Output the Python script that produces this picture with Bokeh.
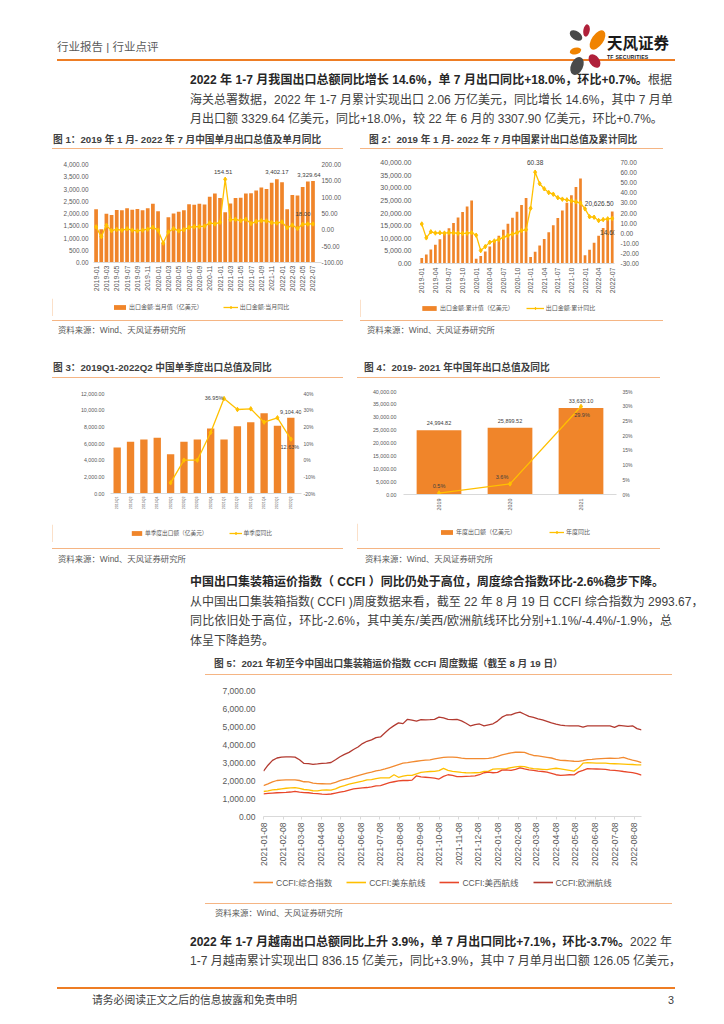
import math
import pandas as pd
from bokeh.plotting import figure
from bokeh.models import (Range1d, LinearAxis, FixedTicker, NumeralTickFormatter,
                          PrintfTickFormatter, DatetimeTickFormatter, Legend, LegendItem,
                          Label, Div, Spacer)
from bokeh.layouts import column, row
from bokeh.embed import file_html
from bokeh.resources import INLINE

# ---------------- data ----------------
months1 = [f"{y}-{m:02d}" for y in (2019, 2020, 2021, 2022) for m in range(1, 13)][:43]
exp_month = [2175.7, 1353.0, 1986.2, 1934.9, 2138.6, 2128.3, 2215.1, 2148.1, 2181.2, 2129.3, 2217.4, 2395.4,
             2089.0, 810.0, 1851.0, 2002.0, 2067.0, 2135.0, 2373.0, 2353.0, 2393.0, 2372.0, 2680.0, 2818.0,
             2637.0, 2049.0, 2413.0, 2637.0, 2639.0, 2814.0, 2826.0, 2943.0, 3057.0, 3001.0, 3255.0, 3402.17,
             3274.0, 2174.0, 2760.0, 2736.0, 3085.0, 3307.90, 3329.64]
yoy_month = [9.1, -20.8, 13.8, -2.7, 1.1, -1.3, 3.3, -1.0, -3.2, -0.9, 1.9, 7.6,
             -1.0, -40.6, -6.6, 3.5, -3.3, 0.5, 7.2, 9.5, 9.9, 11.4, 21.1, 18.1,
             23.0, 154.51, 30.6, 32.3, 27.9, 32.2, 19.3, 25.6, 28.1, 27.1, 22.0, 20.9,
             24.1, 6.2, 14.7, 3.9, 16.9, 17.9, 18.0]

exp_cum = [2175.7, 3528.7, 5514.9, 7449.8, 9588.4, 11716.7, 13931.8, 16079.9, 18261.1, 20390.4, 22607.8, 24994.8,
           1900.0, 2924.0, 4775.0, 6777.0, 8844.0, 10979.0, 13352.0, 15705.0, 18098.0, 20470.0, 23150.0, 25899.5,
           2600.0, 4686.0, 7099.0, 9736.0, 12375.0, 15189.0, 18015.0, 20958.0, 24015.0, 27016.0, 30271.0, 33640.0,
           3274.0, 5448.0, 8208.0, 10944.0, 14029.0, 17337.0, 20626.5]
yoy_cum = [9.1, -4.6, 1.4, 0.2, 0.4, 0.1, 0.6, 0.4, -0.1, -0.2, 0.0, 0.5,
           -2.0, -17.2, -13.3, -9.0, -7.7, -6.2, -4.1, -2.3, -0.8, 0.5, 2.5, 3.6,
           24.7, 60.38, 49.0, 44.0, 40.2, 38.6, 35.2, 33.7, 33.0, 32.0, 31.1, 29.9,
           24.1, 16.3, 15.8, 12.5, 13.5, 14.2, 14.6]

quarters = ["2019Q1", "2019Q2", "2019Q3", "2019Q4", "2020Q1", "2020Q2", "2020Q3", "2020Q4",
            "2021Q1", "2021Q2", "2021Q3", "2021Q4", "2022Q1", "2022Q2"]
exp_q = [5514.9, 6201.8, 6480.0, 6680.0, 4720.0, 6204.0, 6480.0, 7800.0,
         6480.0, 8080.0, 8560.0, 9640.0, 8120.0, 9104.40]
yoy_q_quarters = quarters[4:]
yoy_q = [-13.6, 0.0, 0.0, 16.6, 36.95, 30.4, 30.8, 22.8, 25.4, 12.63]

years = ["2019", "2020", "2021"]
exp_y = [24994.82, 25899.52, 33630.10]
yoy_y = [0.5, 3.6, 29.9]

ccfi_ticks = ["2021-01-08", "2021-02-08", "2021-03-08", "2021-04-08", "2021-05-08", "2021-06-08",
              "2021-07-08", "2021-08-08", "2021-09-08", "2021-10-08", "2021-11-08", "2021-12-08",
              "2022-01-08", "2022-02-08", "2022-03-08", "2022-04-08", "2022-05-08", "2022-06-08",
              "2022-07-08", "2022-08-08"]
ccfi_comp = [1720, 1810, 1920, 2000, 2020, 2030, 2040, 2040, 2000, 1930,
             1920, 1850, 1830, 1820, 1810, 1820, 1900, 1990, 2060, 2120,
             2200, 2270, 2340, 2410, 2470, 2540, 2580, 2640, 2720, 2800,
             2880, 2960, 2990, 3040, 3070, 3100, 3130, 3150, 3200, 3240,
             3280, 3300, 3300, 3280, 3240, 3220, 3210, 3210, 3220, 3220,
             3230, 3270, 3340, 3420, 3480, 3540, 3570, 3570, 3560, 3460,
             3390, 3370, 3330, 3290, 3250, 3180, 3120, 3110, 3090, 3070,
             3060, 3100, 3160, 3170, 3200, 3220, 3230, 3240, 3230, 3240,
             3280, 3200, 3130, 3070, 2993.67]
ccfi_east = [1390, 1420, 1480, 1500, 1540, 1570, 1590, 1600, 1560, 1500,
             1480, 1430, 1420, 1460, 1480, 1470, 1530, 1650, 1720, 1800,
             1860, 1910, 1960, 2030, 2050, 2100, 2150, 2150, 2150, 2320,
             2180, 2240, 2290, 2280, 2370, 2450, 2480, 2500, 2510, 2550,
             2670, 2560, 2510, 2480, 2450, 2430, 2420, 2430, 2440, 2500,
             2520, 2630, 2650, 2650, 2660, 2720, 2760, 2790, 2770, 2700,
             2660, 2640, 2620, 2600, 2650, 2680, 2640, 2600, 2560, 2520,
             2690, 2960, 2990, 2980, 2970, 2970, 2960, 2940, 2930, 2920,
             2910, 2900, 2890, 2870, 2870]
ccfi_west = [1260, 1280, 1300, 1320, 1330, 1340, 1360, 1400, 1350, 1330,
             1320, 1290, 1270, 1240, 1230, 1250, 1300, 1350, 1400, 1470,
             1530, 1560, 1590, 1610, 1650, 1700, 1720, 1800, 1880, 1930,
             1980, 2000, 2000, 2020, 2260, 2200, 2180, 2160, 2130, 2080,
             2230, 2320, 2280, 2210, 2220, 2230, 2240, 2260, 2320, 2430,
             2460, 2430, 2450, 2580, 2590, 2560, 2620, 2700, 2640, 2590,
             2560, 2520, 2500, 2460, 2400, 2320, 2280, 2300, 2320, 2310,
             2480, 2560, 2660, 2650, 2640, 2630, 2620, 2580, 2560, 2540,
             2500, 2470, 2440, 2380, 2300]
ccfi_europe = [2520, 2850, 3120, 3250, 3300, 3310, 3310, 3300, 3150, 2950,
               2940, 2900, 2920, 2950, 2960, 3000, 3150, 3320, 3450, 3560,
               3720, 3860, 4050, 4180, 4260, 4380, 4420, 4650, 4870, 5050,
               5200, 5160, 5400, 5350, 5300, 5380, 5370, 5380, 5400, 5520,
               5480, 5400, 5380, 5390, 5310, 5180, 5030, 5100, 5140, 5030,
               5090, 5150, 5300, 5520, 5640, 5650, 5740, 5800, 5680, 5560,
               5510, 5430, 5370, 5290, 5200, 5130, 5080, 5050, 5040, 5040,
               5030, 4970, 5030, 5030, 5030, 5030, 5030, 5040, 4950, 5060,
               5040, 5010, 5040, 4880, 4810]
ccfi_names = ["CCFI:综合指数", "CCFI:美东航线", "CCFI:美西航线", "CCFI:欧洲航线"]

# ---------------- styles ----------------
ORANGE = "#F0852A"
YELLOW = "#FFC000"
LINE_COLORS = ["#F28A30", "#FFC000", "#E8472A", "#B23A30"]
AXIS_GRAY = "#D9D9D9"
TICK_GRAY = "#595959"
LABEL_DARK = "#404040"
TITLE_LINE = "#F5B584"
HEAD_LINE = "#EE7D24"
FONT = "Liberation Sans, Noto Sans CJK SC"
CSS_FONT = "'Liberation Sans','Noto Sans CJK SC',sans-serif"


def no_align(p):
    try:
        p.frame_align = False
    except Exception:
        pass


def make_fig(w, h, ml, mr, mt, mb, xr, yr, **kw):
    p = figure(width=w, height=h, x_range=xr, y_range=yr, output_backend="svg",
               toolbar_location=None, min_border_left=ml, min_border_right=mr,
               min_border_top=mt, min_border_bottom=mb, **kw)
    no_align(p)
    p.outline_line_color = None
    p.grid.visible = False
    p.background_fill_color = "white"
    p.border_fill_color = "white"
    return p


def style_axis(ax, size, standoff, line=False):
    ax.axis_line_color = AXIS_GRAY if line else None
    ax.major_tick_line_color = None
    ax.minor_tick_line_color = None
    ax.major_tick_out = 0
    ax.major_tick_in = 0
    ax.minor_tick_out = 0
    ax.minor_tick_in = 0
    ax.major_label_text_font_size = size
    ax.major_label_text_color = TICK_GRAY
    ax.major_label_text_font = FONT
    ax.major_label_standoff = standoff


def add_label(p, x, y, text, dx=0, dy=0, size="6px", rng="default"):
    p.add_layout(Label(x=x, y=y, text=text, x_offset=dx, y_offset=dy, y_range_name=rng,
                       text_font_size=size, text_color=LABEL_DARK, text_align="center",
                       text_baseline="middle", text_font=FONT))


def legend_fig(w, h, entries, x0, size, glyph_w, spacing, glyph_h=6, label_h=8, standoff=2):
    """A strip that carries the chart's legend; entries are (label, kind, color).
    Its swatch renderers sit outside the strip's visible range, so only the legend shows."""
    pl = figure(width=w, height=h, x_range=Range1d(0, 1), y_range=Range1d(0, 1),
                x_axis_type=None, y_axis_type=None, output_backend="svg", toolbar_location=None,
                min_border_left=0, min_border_right=0, min_border_top=0, min_border_bottom=0)
    no_align(pl)
    pl.outline_line_color = None
    pl.grid.visible = False
    pl.border_fill_color = "white"
    items = []
    for label, kind, col in entries:
        if kind == "bar":
            rs = [pl.vbar(x=[-5], top=[1], width=0.5, fill_color=col, line_color=None)]
        elif kind == "linemarker":
            rs = [pl.line(x=[-6, -5], y=[0.5, 0.5], line_color=col, line_width=1.3),
                  pl.scatter(x=[-5], y=[0.5], marker="diamond", size=4.5, fill_color=col, line_color=col)]
        else:
            rs = [pl.line(x=[-6, -5], y=[0.5, 0.5], line_color=col, line_width=1.6)]
        items.append(LegendItem(label=label, renderers=rs))
    leg = Legend(items=items, location=(x0, (h - label_h) // 2), orientation="horizontal",
                 border_line_color=None, background_fill_alpha=0, padding=0, margin=0,
                 spacing=spacing, glyph_width=glyph_w, glyph_height=glyph_h, label_height=label_h,
                 label_standoff=standoff, label_text_font_size=size, label_text_color=TICK_GRAY,
                 label_text_font=FONT)
    pl.add_layout(leg)
    return pl


def combo_chart(w, h, ml, mr, mt, mb, cats, bars, bar_w, left_max, left_step, left_fmt,
                line_x, line_y, r_min, r_max, r_step, r_fmt, tick_every, fs_left, fs_right,
                fs_x, so_left, so_right, so_x, rpad=0, tpad=0, marker_size=4.5):
    n = len(cats)
    idx = list(range(n))
    fw = w - ml - mr
    fh = h - mt - mb
    x_end = n - 0.5 + rpad * n / fw
    y_end = left_max + tpad * left_max / fh
    r_end = r_max + tpad * (r_max - r_min) / fh
    p = make_fig(w, h, ml, mr - rpad, mt - tpad, mb, Range1d(-0.5, x_end), Range1d(0, y_end))
    p.extra_y_ranges = {"yoy": Range1d(r_min, r_end)}
    p.vbar(x=idx, top=bars, width=bar_w, fill_color=ORANGE, line_color=None)
    lx = [cats.index(c) for c in line_x]
    p.line(lx, line_y, y_range_name="yoy", line_color=YELLOW, line_width=1.3)
    p.scatter(lx, line_y, y_range_name="yoy", marker="diamond", size=marker_size,
              fill_color=YELLOW, line_color=YELLOW)
    p.yaxis.ticker = FixedTicker(ticks=list(range(0, left_max + 1, left_step)))
    p.yaxis.formatter = left_fmt
    style_axis(p.yaxis[0], fs_left, so_left)
    rax = LinearAxis(y_range_name="yoy", ticker=FixedTicker(ticks=list(range(r_min, r_max + 1, r_step))),
                     formatter=r_fmt)
    style_axis(rax, fs_right, max(so_right - rpad, 0))
    p.add_layout(rax, "right")
    shown = idx[::tick_every]
    p.xaxis.ticker = FixedTicker(ticks=shown)
    p.xaxis.major_label_overrides = {i: cats[i] for i in shown}
    p.xaxis.major_label_orientation = math.pi / 2
    style_axis(p.xaxis[0], fs_x, so_x, line=True)
    return p


# ---------------- chart 1 ----------------
p1 = combo_chart(294, 149, 41, 28, 15, 36, months1, exp_month, 0.72, 4000, 500,
                 NumeralTickFormatter(format="0,0.00"), months1, yoy_month, -100, 200, 50,
                 NumeralTickFormatter(format="0.00"), 2, "6.4px", "6.4px", "7px", 5, 5, 3, rpad=6)
k = yoy_month.index(max(yoy_month))
add_label(p1, k, yoy_month[k], f"{yoy_month[k]:.2f}", dx=-2, dy=7, size="6px", rng="yoy")
k = exp_month.index(3402.17)
add_label(p1, k, exp_month[k], f"{exp_month[k]:,.2f}", dy=7, size="6px")
k = len(exp_month) - 1
add_label(p1, k, exp_month[k], f"{exp_month[k]:,.2f}", dx=-4, dy=6, size="6px")
add_label(p1, k, yoy_month[k], f"{yoy_month[k]:.2f}", dx=-10, dy=10, size="6px", rng="yoy")
l1 = legend_fig(294, 18, [("出口金额:当月值（亿美元）", "bar", ORANGE),
                          ("出口金额:当月同比", "linemarker", YELLOW)], 60, "6px", 15, 20)

# ---------------- chart 2 ----------------
p2 = combo_chart(303, 150, 59, 49, 13, 36, months1, exp_cum, 0.6, 40000, 5000,
                 NumeralTickFormatter(format="0,0.00"), months1, yoy_cum, -30, 70, 10,
                 NumeralTickFormatter(format="0.00"), 3, "7px", "6.5px", "7px", 8, 6, 4, tpad=7)
k = yoy_cum.index(max(yoy_cum))
add_label(p2, k, yoy_cum[k], f"{yoy_cum[k]:.2f}", dy=10, size="6.5px", rng="yoy")
k = len(exp_cum) - 1
add_label(p2, k, exp_cum[k], f"{exp_cum[k]:,.2f}", dx=-13, dy=8, size="6.5px")
add_label(p2, k, yoy_cum[k], f"{yoy_cum[k]:.2f}", dx=-4, dy=-14, size="6.5px", rng="yoy")
l2 = legend_fig(303, 18, [("出口金额:累计值（亿美元）", "bar", ORANGE),
                          ("出口金额:累计同比", "linemarker", YELLOW)], 60, "6px", 18, 12)

# ---------------- chart 3 ----------------
p3 = combo_chart(291, 146, 58, 46, 15, 31, quarters, exp_q, 0.55, 12000, 2000,
                 NumeralTickFormatter(format="0,0.00"), yoy_q_quarters, yoy_q, -20, 40, 10,
                 PrintfTickFormatter(format="%d%%"), 1, "5.3px", "5px", "3.6px", 6, 6, 3, rpad=4)
k = yoy_q.index(max(yoy_q))
add_label(p3, quarters.index(yoy_q_quarters[k]), yoy_q[k], f"{yoy_q[k]:.2f}%", dx=-10, dy=1,
          size="5.5px", rng="yoy")
k = len(exp_q) - 1
add_label(p3, k, exp_q[k], f"{exp_q[k]:,.2f}", dy=6, size="5.5px")
add_label(p3, k, yoy_q[-1], f"{yoy_q[-1]:.2f}%", dx=-1, dy=-8, size="5.5px", rng="yoy")
l3 = legend_fig(291, 18, [("单季度出口额（亿美元）", "bar", ORANGE),
                          ("单季度同比", "linemarker", YELLOW)], 78, "5.7px", 13, 21)

# ---------------- chart 4 ----------------
p4 = combo_chart(303, 145, 46, 44, 13, 29, years, exp_y, 0.63, 40000, 5000,
                 NumeralTickFormatter(format="0,0.00"), years, yoy_y, 0, 35, 5,
                 PrintfTickFormatter(format="%d%%"), 1, "5.3px", "5px", "5.4px", 7, 6, 4)
for i in range(len(years)):
    add_label(p4, i, exp_y[i], f"{exp_y[i]:,.2f}", dy=7, size="5.5px")
add_label(p4, 0, yoy_y[0], f"{yoy_y[0]:.1f}%", dy=7, size="5.5px", rng="yoy")
add_label(p4, 1, yoy_y[1], f"{yoy_y[1]:.1f}%", dx=-8, dy=7, size="5.5px", rng="yoy")
add_label(p4, 2, yoy_y[2], f"{yoy_y[2]:.1f}%", dx=1, dy=-8, size="5.5px", rng="yoy")
l4 = legend_fig(303, 18, [("年度出口额（亿美元）", "bar", ORANGE),
                          ("年度同比", "linemarker", YELLOW)], 82, "6px", 15, 33)

# ---------------- chart 5 ----------------
dates5 = pd.date_range("2021-01-08", periods=len(ccfi_comp), freq="7D")
p5 = make_fig(467, 199, 58, 31, 15, 58,
              Range1d(dates5[0].to_pydatetime(), dates5[-1].to_pydatetime()), Range1d(0, 7000),
              x_axis_type="datetime")
series5 = [ccfi_comp, ccfi_east, ccfi_west, ccfi_europe]
for vals, col in zip(series5, LINE_COLORS):
    p5.line(dates5, vals, line_color=col, line_width=1.3)
p5.yaxis.ticker = FixedTicker(ticks=list(range(0, 7001, 1000)))
p5.yaxis.formatter = NumeralTickFormatter(format="0,0.00")
style_axis(p5.yaxis[0], "8.5px", 8)
p5.xaxis.ticker = FixedTicker(ticks=[pd.Timestamp(s).value / 1e6 for s in ccfi_ticks])
p5.xaxis.formatter = DatetimeTickFormatter(days="%Y-%m-%d", months="%Y-%m-%d", years="%Y-%m-%d")
p5.xaxis.major_label_orientation = math.pi / 2
style_axis(p5.xaxis[0], "8.5px", 3, line=True)
p5.xaxis.major_tick_line_color = AXIS_GRAY
p5.xaxis.major_tick_out = 3
l5 = legend_fig(467, 18, [(nm, "line", c) for nm, c in zip(ccfi_names, LINE_COLORS)],
                48, "8.5px", 20, 14, glyph_h=8, label_h=10, standoff=3)


# ---------------- page texts ----------------
def text_div(w, h, items):
    html = (f'<div style="position:relative;width:{w}px;height:{h}px;font-family:{CSS_FONT};">'
            + "".join(items) + "</div>")
    return Div(text=html, width=w, height=h, margin=(0, 0, 0, 0), styles={"overflow": "visible"})


def t(x, yc, s, size, color="#404040", weight="normal", extra=""):
    return (f'<div style="position:absolute;left:{x}px;top:{yc - 10}px;height:20px;line-height:20px;'
            f'font-size:{size}px;color:{color};font-weight:{weight};white-space:nowrap;{extra}">{s}</div>')


def hline(x, y, w, h, color):
    return (f'<div style="position:absolute;left:{x}px;top:{y}px;width:{w}px;height:{h}px;'
            f'background:{color};"></div>')


def spacer(w, h):
    return Spacer(width=w, height=h, margin=(0, 0, 0, 0))


JUST = "width:482px;text-align:justify;text-align-last:justify;"
BODY = 12


def bold(s):
    return f'<span style="font-weight:bold;color:#262626">{s}</span>'


logo = ('<svg style="position:absolute;left:0;top:0;overflow:visible" width="708" height="70">'
        '<ellipse cx="586.5" cy="30.5" rx="3.2" ry="6.2" transform="rotate(10 586.5 30.5)" fill="#B0203A"/>'
        '<ellipse cx="576" cy="35.5" rx="7" ry="4.3" transform="rotate(35 576 35.5)" fill="#4A4A4A"/>'
        '<ellipse cx="597.5" cy="40" rx="5.8" ry="11" transform="rotate(35 597.5 40)" fill="#F08300"/>'
        '<ellipse cx="575.5" cy="51" rx="5.8" ry="3.3" transform="rotate(-15 575.5 51)" fill="#F08300"/>'
        '<ellipse cx="594.5" cy="61" rx="5" ry="7.5" transform="rotate(-35 594.5 61)" fill="#B0203A"/>'
        '<ellipse cx="577" cy="66" rx="6" ry="9.5" transform="rotate(25 577 66)" fill="#4A4A4A"/>'
        '</svg>')

header = text_div(708, 70, [
    t(57, 47, "行业报告 | 行业点评", 11.5, "#595959"),
    hline(57, 59, 618, 2, HEAD_LINE),
    logo,
    t(607, 43.5, "天风证券", 15.5, "#1a1a1a", "bold"),
    t(607, 56.5, "TF SECURITIES", 5.2, "#1a1a1a", "bold", "letter-spacing:0.2px;"),
])

para1 = text_div(708, 60, [
    t(190, 10, bold("2022 年 1-7 月我国出口总额同比增长 14.6%，单 7 月出口同比+18.0%，环比+0.7%。") + "根据",
      BODY, extra=JUST),
    t(190, 29.5, "海关总署数据，2022 年 1-7 月累计实现出口 2.06 万亿美元，同比增长 14.6%，其中 7 月单",
      BODY, extra=JUST),
    t(190, 49, "月出口额 3329.64 亿美元，同比+18.0%，较 22 年 6 月的 3307.90 亿美元，环比+0.7%。", BODY),
])


def title_div(w, h, x, yc, text, size, line_y):
    return text_div(w, h, [t(x, yc, text, size, "#404040", "bold"), hline(0, line_y, w, 1.5, TITLE_LINE)])


def source_div(w, h, x, line_y, yc):
    return text_div(w, h, [hline(0, line_y, w, 1.5, TITLE_LINE),
                           t(x, yc, "资料来源：Wind、天风证券研究所", 8.4, "#595959")])


block1 = column(title_div(291, 19, 1, 10, "图 1：2019 年 1 月- 2022 年 7 月中国单月出口总值及单月同比", 9.7, 17.5),
                p1, l1, source_div(291, 26, 6, 3.5, 14), spacing=0, margin=(0, 0, 0, 0))
block2 = column(title_div(303, 19, 9, 10, "图 2：2019 年 1 月- 2022 年 7 月中国累计出口总值及累计同比", 9.7, 17.5),
                p2, l2, source_div(303, 25, 7, 2.5, 13), spacing=0, margin=(0, 0, 0, 0))
row1 = row(spacer(52, 10), block1, spacer(14, 10), block2, spacing=0, margin=(0, 0, 0, 0))

block3 = column(title_div(291, 19, 1, 9, "图 3：2019Q1-2022Q2 中国单季度出口总值及同比", 9.7, 17.5),
                p3, l3, source_div(291, 28, 6, 5.5, 17), spacing=0, margin=(0, 0, 0, 0))
block4 = column(title_div(303, 19, 7, 9, "图 4：2019- 2021 年中国年出口总值及同比", 9.7, 17.5),
                p4, l4, source_div(303, 29, 8, 6.5, 18), spacing=0, margin=(0, 0, 0, 0))
row2 = row(spacer(52, 10), block3, spacer(14, 10), block4, spacing=0, margin=(0, 0, 0, 0))

para2 = text_div(708, 82, [
    t(190, 12, bold("中国出口集装箱运价指数（ CCFI ）同比仍处于高位，周度综合指数环比-2.6%稳步下降。"), BODY),
    t(190, 31.5, "从中国出口集装箱指数( CCFI )周度数据来看，截至 22 年 8 月 19 日 CCFI 综合指数为 2993.67，",
      BODY, extra=JUST),
    t(190, 51, "同比依旧处于高位，环比-2.6%，其中美东/美西/欧洲航线环比分别+1.1%/-4.4%/-1.9%，总",
      BODY, extra=JUST),
    t(190, 70.5, "体呈下降趋势。", BODY),
])

block5 = column(title_div(467, 23, 9, 12, "图 5：2021 年初至今中国出口集装箱运价指数 CCFI 周度数据（截至 8 月 19 日）",
                          9.7, 21.5),
                p5, l5, source_div(467, 33, 10, 10.5, 21), spacing=0, margin=(0, 0, 0, 0))
row5 = row(spacer(205, 10), block5, spacing=0, margin=(0, 0, 0, 0))

para3 = text_div(708, 50, [
    t(190, 17, bold("2022 年 1-7 月越南出口总额同比上升 3.9%，单 7 月出口同比+7.1%，环比-3.7%。") + "2022 年",
      BODY, extra=JUST),
    t(190, 35.5, "1-7 月越南累计实现出口 836.15 亿美元，同比+3.9%，其中 7 月单月出口额 126.05 亿美元，",
      BODY, extra=JUST),
])

footer = text_div(708, 49, [
    hline(57, 12, 618, 2, HEAD_LINE),
    t(92, 25, "请务必阅读正文之后的信息披露和免责申明", 10.8, "#404040"),
    t(668, 25, "3", 10.8, "#404040"),
])

page = column(header, para1, row1, spacer(10, 17), row2, para2, row5, para3, footer,
              spacing=0, margin=(0, 0, 0, 0))

open("out.html", "w").write(file_html(page, INLINE))
